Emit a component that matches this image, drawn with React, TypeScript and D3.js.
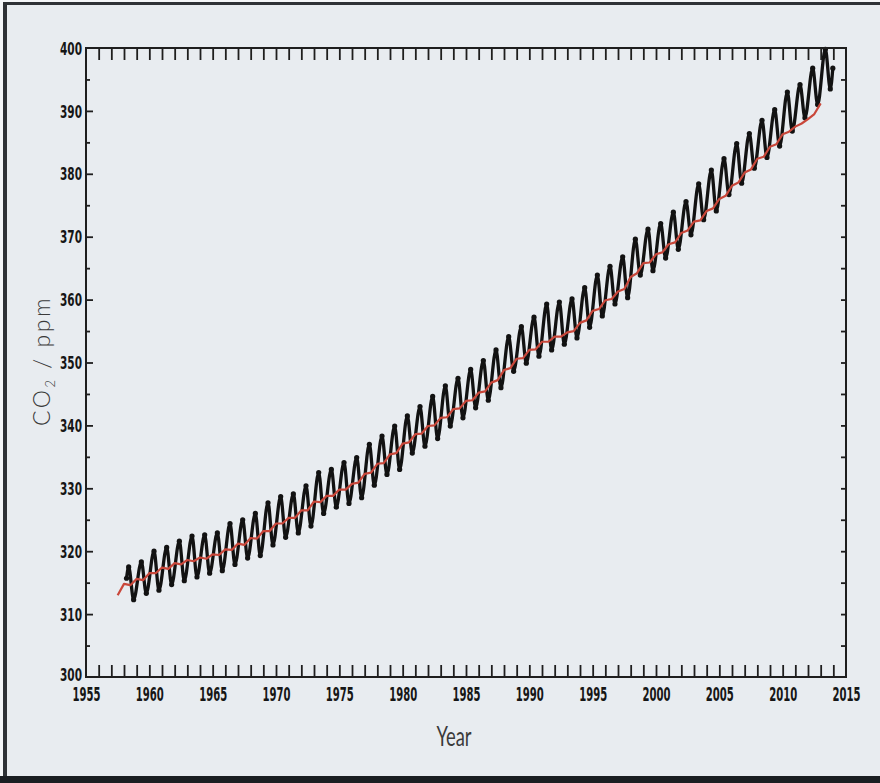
import React, { useEffect, useRef } from "react";
import * as d3 from "d3";

const mloYears = d3.range(1958, 2014);
const mloPeak = [
  317.5, 318.3, 320.0, 320.6, 321.6, 322.4, 322.6, 322.9, 324.4, 325.0,
  326.0, 327.7, 328.7, 329.1, 330.4, 332.5, 333.0, 334.1, 334.9, 337.0,
  338.3, 339.9, 341.5, 343.0, 344.6, 346.3, 347.5, 348.9, 350.3, 352.0,
  354.1, 355.7, 357.2, 359.3, 359.6, 360.1, 361.9, 363.9, 365.3, 366.8,
  369.6, 371.2, 372.1, 373.9, 375.6, 378.4, 380.6, 382.4, 384.8, 386.4,
  388.5, 390.2, 393.0, 394.2, 396.8, 399.8,
];
const mloTrough = [
  312.3, 313.3, 313.8, 314.7, 315.3, 315.9, 316.5, 316.9, 317.9, 318.9,
  319.3, 321.0, 322.2, 322.9, 324.0, 326.0, 327.0, 327.6, 328.5, 330.5,
  332.2, 333.0, 335.6, 336.7, 337.9, 339.9, 341.2, 342.8, 344.0, 346.0,
  348.6, 349.9, 351.0, 352.0, 352.9, 353.9, 355.6, 357.4, 359.3, 360.3,
  363.9, 364.6, 366.6, 368.0, 370.3, 372.7, 374.1, 376.7, 378.5, 380.9,
  382.6, 384.4, 386.8, 388.9, 391.0, 393.5,
];
const mloFirst = [1958.2, 315.7];
const mloLast = [2013.96, 396.8];
const peakPhase = 0.37;
const troughPhase = 0.76;

// red record, half-year steps from mid 1957
const spoStart = 1957.5;
const spoStep = 0.5;
const spoValues = [
  313.0, 314.8, 314.6, 315.6, 315.4, 316.5, 316.5, 317.4, 317.2, 318.1,
  317.9, 318.6, 318.4, 319.0, 318.8, 319.5, 319.4, 320.3, 320.2, 321.2,
  321.0, 322.1, 322.0, 323.2, 323.2, 324.4, 324.4, 325.3, 325.3, 326.5,
  326.5, 327.9, 327.8, 328.8, 328.8, 329.8, 329.8, 330.7, 330.9, 332.3,
  332.5, 333.9, 334.0, 335.4, 335.6, 337.1, 337.3, 338.6, 338.7, 339.9,
  340.0, 341.2, 341.3, 342.6, 342.7, 343.9, 344.0, 345.2, 345.4, 346.8,
  347.2, 348.8, 349.1, 350.6, 350.7, 352.0, 352.1, 353.3, 353.3, 354.1,
  354.1, 354.8, 355.0, 356.3, 356.7, 358.2, 358.5, 359.9, 360.1, 361.3,
  361.7, 363.6, 364.2, 365.8, 365.9, 367.2, 367.5, 368.8, 369.1, 370.6,
  371.0, 372.4, 372.6, 374.1, 374.5, 376.0, 376.5, 378.1, 378.6, 380.2,
  380.7, 382.4, 382.7, 384.3, 384.7, 386.3, 386.7, 387.5, 388.0, 388.7,
  389.5, 391.2,
];

const xTicks = d3.range(1955, 2016, 5);
const yTicks = d3.range(300, 401, 10);

const App = () => {
  const ref = useRef<SVGSVGElement>(null);

  useEffect(() => {
    const svg = d3.select(ref.current);
    svg.selectAll("*").remove();

    const W = 880;
    const H = 783;
    const m = { left: 86, right: 846, top: 48, bottom: 677 };

    const x = d3.scaleLinear().domain([1955, 2015]).range([m.left, m.right]);
    const y = d3.scaleLinear().domain([300, 400]).range([m.bottom, m.top]);

    // page + frame
    svg.append("rect").attr("width", W).attr("height", H).attr("fill", "#f4f6f8");
    svg.append("rect").attr("x", 5).attr("y", 3).attr("width", W - 5).attr("height", H - 3).attr("fill", "#e8ecf0");
    svg.append("rect").attr("x", 3).attr("y", 2).attr("width", 4).attr("height", H).attr("fill", "#2e3236");
    svg.append("rect").attr("x", 3).attr("y", 2).attr("width", W).attr("height", 3).attr("fill", "#2e3236");
    svg.append("rect").attr("x", 0).attr("y", 776).attr("width", W).attr("height", 7).attr("fill", "#1a1e22");

    // data
    const black: [number, number][] = [[mloFirst[0], mloFirst[1]]];
    mloYears.forEach((yr, i) => {
      black.push([yr + peakPhase, mloPeak[i]]);
      black.push([yr + troughPhase, mloTrough[i]]);
    });
    black.push([mloLast[0], mloLast[1]]);

    const red: [number, number][] = spoValues.map((v, i) => [spoStart + i * spoStep, v]);

    const line = d3
      .line<[number, number]>()
      .x(d => x(d[0]))
      .y(d => y(d[1]))
      .curve(d3.curveMonotoneX);

    svg
      .append("path")
      .datum(black)
      .attr("d", line)
      .attr("fill", "none")
      .attr("stroke", "#121212")
      .attr("stroke-width", 3.3)
      .attr("stroke-linejoin", "round");

    svg
      .selectAll(".turn")
      .data(black)
      .enter()
      .append("circle")
      .attr("class", "turn")
      .attr("cx", d => x(d[0]))
      .attr("cy", d => y(d[1]))
      .attr("r", 2.6)
      .attr("fill", "#121212");

    svg
      .append("path")
      .datum(red)
      .attr("d", line.curve(d3.curveLinear))
      .attr("fill", "none")
      .attr("stroke", "#c9473a")
      .attr("stroke-width", 2.2)
      .attr("stroke-linejoin", "round");

    // axes ticks
    const tickStyle = (g: d3.Selection<SVGGElement, unknown, null, undefined>) => {
      g.select(".domain").remove();
      g.selectAll("line").attr("stroke", "#1e1e1e").attr("stroke-width", 1.8);
    };
    const yearTicks = d3.range(1956, 2015);

    svg.append("g").attr("transform", `translate(0,${m.bottom})`)
      .call(d3.axisBottom(x).tickValues(yearTicks).tickSize(-12).tickFormat(() => ""))
      .call(tickStyle);
    svg.append("g").attr("transform", `translate(0,${m.top})`)
      .call(d3.axisTop(x).tickValues(yearTicks).tickSize(-12).tickFormat(() => ""))
      .call(tickStyle);
    svg.append("g").attr("transform", `translate(${m.left},0)`)
      .call(d3.axisLeft(y).tickValues(d3.range(310, 400, 10)).tickSize(-7).tickFormat(() => ""))
      .call(tickStyle);
    svg.append("g").attr("transform", `translate(${m.left},0)`)
      .call(d3.axisLeft(y).tickValues(d3.range(305, 400, 10)).tickSize(-4).tickFormat(() => ""))
      .call(tickStyle);
    svg.append("g").attr("transform", `translate(${m.right},0)`)
      .call(d3.axisRight(y).tickValues(d3.range(305, 400, 5)).tickSize(-5).tickFormat(() => ""))
      .call(tickStyle);

    svg.append("rect")
      .attr("x", m.left).attr("y", m.top)
      .attr("width", m.right - m.left).attr("height", m.bottom - m.top)
      .attr("fill", "none").attr("stroke", "#1e1e1e").attr("stroke-width", 2);

    // tick labels
    const labelFont = "'Liberation Sans Narrow', 'DejaVu Sans Condensed', sans-serif";
    const xl = svg.append("g").attr("transform", `translate(0,${m.bottom})`)
      .call(d3.axisBottom(x).tickValues(xTicks).tickSize(0).tickPadding(0).tickFormat(d3.format("d")));
    xl.select(".domain").remove();
    xl.attr("font-family", labelFont).attr("font-size", 20).attr("font-weight", "bold");
    xl.selectAll("text").attr("y", 24).attr("dy", 0).attr("fill", "#161616")
      .attr("textLength", 28).attr("lengthAdjust", "spacingAndGlyphs");

    const yl = svg.append("g").attr("transform", `translate(${m.left},0)`)
      .call(d3.axisLeft(y).tickValues(yTicks).tickSize(0).tickPadding(4).tickFormat(d3.format("d")));
    yl.select(".domain").remove();
    yl.attr("font-family", labelFont).attr("font-size", 18).attr("font-weight", "bold");
    yl.selectAll("text").attr("dy", d => (d === 300 ? "0.2em" : "0.34em")).attr("fill", "#161616")
      .attr("textLength", 22).attr("lengthAdjust", "spacingAndGlyphs");

    // axis titles
    svg.append("text")
      .attr("x", 454)
      .attr("y", 746)
      .attr("text-anchor", "middle")
      .attr("font-family", "'Liberation Sans Narrow', 'Lato', sans-serif")
      .attr("font-size", 27)
      .attr("fill", "#3a3a3a")
      .attr("textLength", 35)
      .attr("lengthAdjust", "spacingAndGlyphs")
      .text("Year");

    const yt = svg.append("text")
      .attr("transform", "translate(50,361) rotate(-90)")
      .attr("text-anchor", "middle")
      .attr("font-family", "'Lato', 'Open Sans', sans-serif")
      .attr("font-weight", 300)
      .attr("font-size", 23)
      .attr("letter-spacing", 2.5)
      .attr("fill", "#3a3a3a");
    yt.append("tspan").text("CO");
    yt.append("tspan").attr("font-size", 13).attr("dy", 5).text("2");
    yt.append("tspan").attr("dy", -5).text(" / ppm");
  }, []);

  return (
    <svg
      ref={ref}
      width={880}
      height={783}
      style={{ position: "absolute", left: 0, top: 0, display: "block" }}
    />
  );
};

export default App;
